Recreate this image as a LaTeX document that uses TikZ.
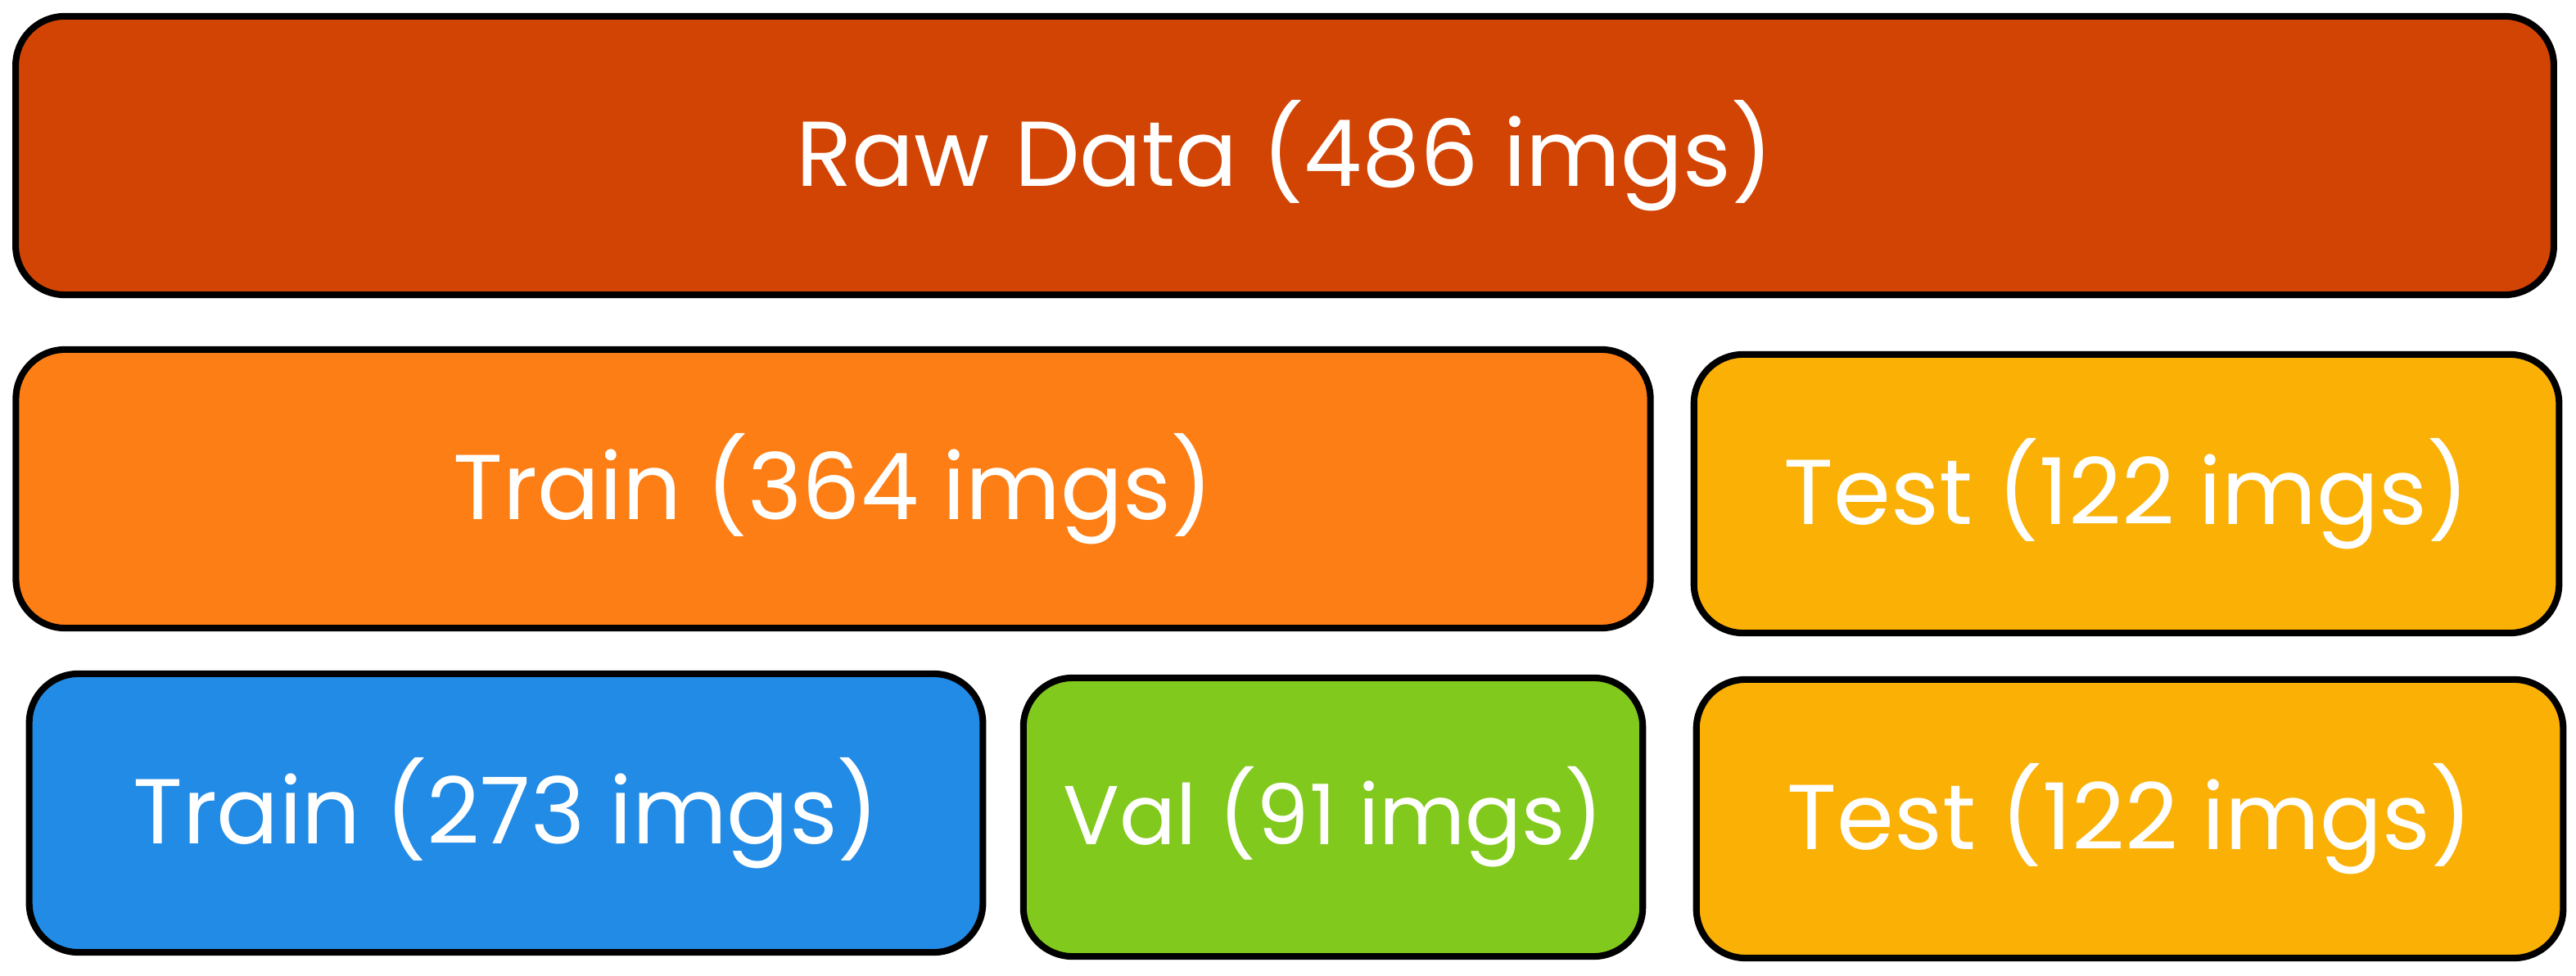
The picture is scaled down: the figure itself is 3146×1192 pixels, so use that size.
\documentclass[tikz,border=0pt]{standalone}
\usepackage{fontspec}
\setmainfont{Poppins}
\definecolor{rawc}{HTML}{D24403}
\definecolor{trainc}{HTML}{FD7E14}
\definecolor{testc}{HTML}{FAB005}
\definecolor{bluec}{HTML}{228BE6}
\definecolor{valc}{HTML}{82C91E}
\tikzset{
  box/.style={draw=black, line width=2.3pt, rounded corners=0.6cm, text=white,
    font=\fontsize{32}{36}\selectfont, inner sep=0pt, minimum height=3.4cm},
  smalltext/.style={font=\fontsize{29}{34}\selectfont},
}
\begin{document}
\begin{tikzpicture}[x=0.01cm, y=-0.01cm]
\useasboundingbox (0,0) rectangle (3146,1192);
\node[box, fill=rawc, minimum width=30.98cm] (raw) at (1569,190) {Raw Data (486 imgs)};
\node[box, fill=trainc, minimum width=19.95cm] (train) at (1017.5,597) {Train (364 imgs)};
\node[box, fill=testc, minimum width=10.56cm] (test) at (2597,603) {Test (122 imgs)};
\node[box, fill=bluec, minimum width=11.64cm] (subtrain) at (618,993) {Train (273 imgs)};
\node[box, smalltext, fill=valc, minimum width=7.56cm] (val) at (1628,998) {Val (91 imgs)};
\node[box, fill=testc, minimum width=10.58cm] (test2) at (2601,1000) {Test (122 imgs)};
\end{tikzpicture}
\end{document}
